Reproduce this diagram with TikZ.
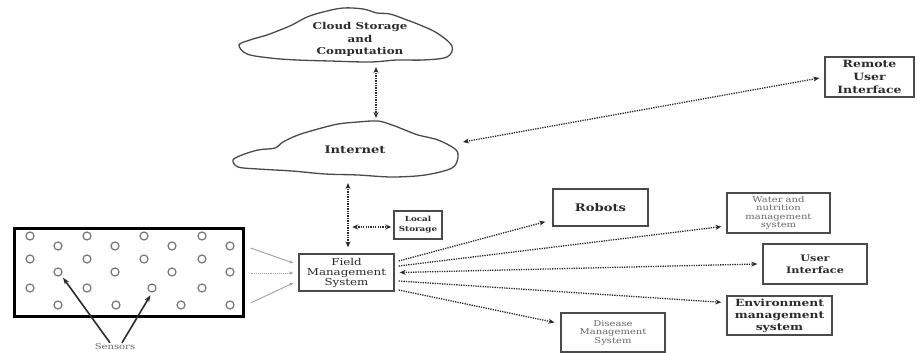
\documentclass[tikz,border=0pt]{standalone}
\usepackage{fontspec}
\setmainfont[FakeStretch=1.25]{DejaVu Serif}
\usepackage{tikz}
\usetikzlibrary{arrows.meta,calc}
\definecolor{ink}{HTML}{2B2B2B}
\definecolor{frame}{HTML}{4A4A4A}
\definecolor{faint}{HTML}{A0A0A0}
\definecolor{dotgray}{HTML}{777777}
\tikzset{
  box/.style={draw=frame, line width=1.4pt, fill=white, align=center, inner sep=0pt, text=ink},
  boldbox/.style={box, font=\bfseries\fontsize{10}{13}\selectfont},
  tinybox/.style={box, line width=1.2pt, font=\fontsize{8}{8.5}\selectfont, text=black!60},
  puff/.style={draw=frame, line width=1.3pt},
  sensor/.style={circle, draw=dotgray, line width=1.2pt, minimum size=8pt, inner sep=0pt},
  link/.style={-{Stealth[length=6pt,width=5pt]}, draw=ink, line width=1.3pt, dash pattern=on 1.3pt off 1.1pt},
  twoway/.style={link, {Stealth[length=6pt,width=5pt]}-{Stealth[length=6pt,width=5pt]}},
  feed/.style={-{Stealth[length=4pt,width=3pt]}, draw=faint, line width=0.9pt},
  pointer/.style={-{Stealth[length=7pt,width=5pt]}, draw=ink, line width=1.6pt}
}

\begin{document}
\begin{tikzpicture}[x=1pt,y=-1pt]
  \useasboundingbox (0,0) rectangle (918,353);

  % clouds
  \draw[puff] plot[smooth cycle, tension=0.55] coordinates {
    (239,45) (250,40) (267,35) (280,30) (292,25) (307,17) (323,12) (343,8) (363,9)
    (377,13) (390,14) (407,20) (420,25) (437,33) (452,46) (447,57) (423,60) (397,60)
    (370,62) (330,61) (297,60) (270,58) (247,54)};
  \node[font=\bfseries\fontsize{9.5}{12.5}\selectfont, text=ink, align=center] (cloudtxt) at (360,39.5) {Cloud Storage\\and\\Computation};
  \draw[puff] plot[smooth cycle, tension=0.55] coordinates {
    (233,160) (242,155) (258,150) (275,148) (283,142) (298,135) (318,129) (338,124)
    (358,122) (378,121) (392,125) (405,130) (418,135) (438,140) (455,149) (458,157)
    (452,168) (425,175) (392,177) (358,175) (325,174) (292,171) (258,169) (238,167)};
  \node[font=\bfseries\fontsize{10.5}{12}\selectfont, text=ink] (nettxt) at (355,150) {Internet};
  \coordinate (cloudfoot) at (376,67);
  \coordinate (nettop) at (376,118);
  \coordinate (netfoot) at (348,183);
  \coordinate (netright) at (463,142);

  % field with sensors
  \node[draw=black, line width=3pt, minimum width=229pt, minimum height=88pt, inner sep=0pt] (plot) at (128.5,272.5) {};
  \foreach \y/\xs in {236/{30,87,144,202}, 246/{58,115,172,230}, 259/{30,87,144,202},
                      272/{58,115,172,230}, 288/{30,87,152,202}, 305/{58,116,181,230}} {
    \foreach \x in \xs {
      \node[sensor] (s-\x-\y) at (\x,\y) {};
    }
  }
  \node[font=\fontsize{8}{8}\selectfont, text=black!60, inner sep=1pt] (sens) at (115,347) {Sensors};
  \draw[pointer, shorten >=3pt] ([xshift=-5pt]sens.north) -- (s-58-272.south east);
  \draw[pointer, shorten >=3pt] ([xshift=7pt]sens.north) -- (s-152-288.south);

  % boxes
  \node[box, font=\fontsize{9.5}{10}\selectfont, minimum width=95pt, minimum height=37pt] (field) at (346.5,272.5) {Field\\Management\\System};
  \node[box, line width=1.5pt, font=\bfseries\fontsize{7}{10}\selectfont, minimum width=48pt, minimum height=28pt] (local) at (418,225) {Local\\Storage};
  \node[boldbox, minimum width=89pt, minimum height=40pt] (remote) at (869.5,77) {Remote\\User\\Interface};
  \node[boldbox, font=\bfseries\fontsize{10.5}{12}\selectfont, minimum width=95pt, minimum height=37pt] (robots) at (600.5,207.5) {Robots};
  \node[tinybox, minimum width=103pt, minimum height=40pt] (water) at (778.5,213) {Water and\\nutrition\\management\\system};
  \node[boldbox, font=\bfseries\fontsize{9}{12}\selectfont, minimum width=104pt, minimum height=40pt] (ui) at (815,264) {User\\Interface};
  \node[boldbox, font=\bfseries\fontsize{9.8}{12}\selectfont, minimum width=105pt, minimum height=39pt] (env) at (779.5,315.5) {Environment\\management\\system};
  \node[tinybox, minimum width=104pt, minimum height=39pt] (disease) at (613,332.5) {Disease\\Management\\System};

  % connections
  \draw[twoway] (cloudfoot) -- (nettop);
  \draw[twoway, shorten >=6pt] (netfoot) -- (netfoot |- field.north);
  \draw[twoway] (netright) -- ($(remote.west)+(-5,1)$);
  \draw[twoway] ($(local.west)+(-41,2)$) -- ($(local.west)+(-2,2)$);
  \foreach \a/\b/\s in {-24.5/-9.5/solid, 0.5/0.5/densely dotted, 30.5/10.5/solid} {
    \draw[feed, \s] ($(plot.east)+(6,\a)$) -- ($(field.west)+(-5,\b)$);
  }
  \foreach \dy/\tgt/\anc/\ox/\oy in {-11.5/robots/south west/-7/-5, -6.5/water/south west/-5/-7,
                                     8.5/env/north west/-5/7, 17.5/disease/north west/-6/10} {
    \draw[link] ($(field.east)+(4,\dy)$) -- ($(\tgt.\anc)+(\ox,\oy)$);
  }
  \draw[twoway] ($(field.east)+(5,0)$) -- ($(ui.west)+(-5,0)$);
\end{tikzpicture}
\end{document}
